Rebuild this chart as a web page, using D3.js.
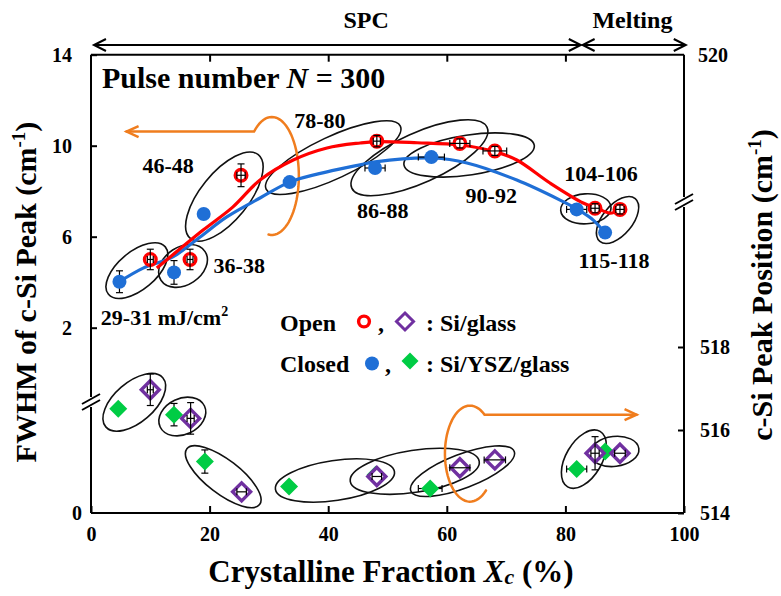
<!DOCTYPE html>
<html><head><meta charset="utf-8">
<script src="https://cdn.jsdelivr.net/npm/d3@7/dist/d3.min.js"></script>
<style>
body{margin:0;background:#fff;}
svg text{font-family:"Liberation Serif","Times New Roman",Times,serif;font-weight:bold;fill:#000;}
</style></head><body>
<svg id="chart" width="781" height="596"></svg>
<script>
// ---------------- data ----------------
const groups = ["29-31 mJ/cm²","36-38","46-48","78-80","86-88","90-92","104-106","115-118"];
// Open symbols: Si/glass
const openXc        = [10.0,16.7,25.3,48.2,62.2,68.1,85.0,89.2];
const openFWHM      = [5.0,5.0,8.7,10.2,10.1,9.77,7.25,7.2];
const openFWHMerrY  = [0.45,0.45,0.5,0.25,0.2,0.2,0.2,0.2];
const openFWHMerrX  = [0.5,0.5,0.7,0.6,1.7,2.0,0.7,0.7];
const openPosXc     = [10.0,16.8,25.4,48.2,62.2,68.1,85.0,89.2];
const openPos       = [516.97,516.28,514.51,514.88,515.09,515.28,515.44,515.44];
const openPosErrY   = [0.38,0.38,0,0,0,0,0.4,0];
const openPosErrX   = [0.5,0.6,0.8,0.8,1.7,1.8,0.7,0.9];
// Closed symbols: Si/YSZ/glass
const closedXc       = [4.8,14.0,19.0,33.5,47.9,57.4,81.9,86.7];
const closedFWHM     = [4.02,4.43,7.0,8.4,9.02,9.5,7.2,6.18];
const closedFWHMerrY = [0.48,0.52,0,0,0,0,0,0];
const closedFWHMerrX = [0,0,0,0,1.7,2.2,1.7,0];
const closedPosXc    = [4.6,14.0,19.2,33.4,48.0,57.2,81.9,86.7];
const closedPos      = [516.51,516.37,515.24,514.64,514.92,514.59,515.06,515.48];
const closedPosErrY  = [0,0.27,0.28,0,0,0,0,0];
const closedPosErrX  = [0,0,0,0,0,2.0,1.7,0];
// smooth guide curves (FWHM)
const fitOpenXc     = [11.1,18.9,23.9,28.5,34.1,39.8,45.4,48.2,55.0,62.2,68.1,71.8,77.4,83.0,85.3,87.5,89.2];
const fitOpenFWHM   = [4.62,6.29,7.30,8.49,9.37,9.90,10.12,10.18,10.13,10.03,9.74,9.37,8.36,7.48,7.26,7.04,7.17];
const fitClosedXc   = [4.7,8.8,13.8,18.4,22.9,28.5,33.6,39.8,45.4,47.9,57.7,63.4,71.8,79.1,82.0,84.7,86.7];
const fitClosedFWHM = [4.01,4.62,5.11,5.99,6.87,7.70,8.41,8.85,9.16,9.29,9.46,9.24,8.49,7.61,7.21,6.73,6.16];
// tick labels
const xTicks      = [0,20,40,60,80,100];
const fwhmTicks   = [2,6,10,14];
const posTicks    = [514,516,518];

// ---------------- annotation layout ----------------
const labelAt = [[12.4,2.47],[25.0,4.76],[13.0,9.15],[38.6,11.13],[49.2,7.17],[67.5,7.83],[86.0,8.8],[88.2,4.98]];
// rings: [padding, ry, extra rotation, dx, dy]
const ringsFWHM = [[18,19,-4,2,0],[16,19,6,1,0],[27,24,-5,2,2],[26,21,0,0,-4],[30,25,-8,2,2],[34,20,-3,6,1],[16,15,0,0,0],[14,15,7,5,-1]];
const ringsPos  = [[19,20,-10,0,3],[16,18,-38,0,0],[22,17,-2,0,0],[16,20,-2,2,-1],[23,21,-4,-3,0],[20,17,3,0,-3],[20,18,-19,-2,-2],[17,15,-13,2,-1]];

const RED="#ff0000", BLUE="#1f6fd6", GREEN="#00cc44", PURPLE="#7030a0", ORANGE="#f07d1e";

const svg = d3.select("#chart");
const x  = d3.scaleLinear().domain([0,100]).range([91,684]);
const yF = d3.scaleLinear().domain([2,14]).range([327.7,54.7]);
const yP = d3.scaleLinear().domain([514,518]).range([513,347]);
const yF0 = d3.scaleLinear().domain([0,1]).range([513,402]);      // lower piece of broken left axis
const yP520 = d3.scaleLinear().domain([519,520]).range([190,54.7]); // upper piece of broken right axis
const T=yF(14), B=yP(514), L=x(0), R=x(100);
const breakL=402, breakR=202;

// ---------------- frame ----------------
const frame = svg.append("g").attr("stroke","#000").attr("stroke-width",2).attr("fill","none");
frame.append("line").attr("x1",L).attr("x2",R).attr("y1",T).attr("y2",T);
frame.append("line").attr("x1",L).attr("x2",R).attr("y1",B).attr("y2",B);
frame.append("line").attr("x1",L).attr("x2",L).attr("y1",T).attr("y2",breakL-5);
frame.append("line").attr("x1",L).attr("x2",L).attr("y1",breakL+5).attr("y2",B);
frame.append("line").attr("x1",R).attr("x2",R).attr("y1",T).attr("y2",breakR-5);
frame.append("line").attr("x1",R).attr("x2",R).attr("y1",breakR+5).attr("y2",B);
function breakMark(cx,cy){
  [-3,3].forEach(o=>{
    frame.append("line").attr("x1",cx-9).attr("y1",cy+o+5).attr("x2",cx+9).attr("y2",cy+o-5).attr("stroke-width",2);
  });
}
breakMark(L,breakL); breakMark(R,breakR);

function styleAxis(g){
  g.attr("font-size",20).attr("font-family",null);
  g.select(".domain").remove();
  g.selectAll(".tick line").attr("stroke-width",2);
}
svg.append("g").attr("transform",`translate(${L},0)`)
  .call(d3.axisLeft(yF).tickValues(fwhmTicks).tickSize(-6).tickPadding(19).tickFormat(d3.format("d"))).call(styleAxis);
svg.append("g").attr("transform",`translate(${L},0)`)
  .call(d3.axisLeft(yF0).tickValues([0]).tickSize(0).tickPadding(9).tickFormat(d3.format("d"))).call(styleAxis);
svg.append("g").attr("transform",`translate(${R},0)`)
  .call(d3.axisRight(yP).tickValues(posTicks).tickSize(-6).tickPadding(16).tickFormat(d3.format("d"))).call(styleAxis);
svg.append("g").attr("transform",`translate(${R},0)`)
  .call(d3.axisRight(yP520).tickValues([520]).tickSize(0).tickPadding(14).tickFormat(d3.format("d"))).call(styleAxis);
svg.append("g").attr("transform",`translate(0,${B})`)
  .call(d3.axisBottom(x).tickValues(xTicks).tickSize(-7).tickPadding(14).tickFormat(d3.format("d"))).call(styleAxis);
svg.append("g").attr("transform",`translate(0,${T})`)
  .call(d3.axisTop(x).tickValues([20,40,60,80]).tickSize(-7).tickFormat("")).call(styleAxis);

// ---------------- top regime arrows ----------------
function chevron(g,tx,ty,dir,len,half,color,w){
  g.append("path").attr("d",`M${tx-dir*len},${ty-half}L${tx},${ty}L${tx-dir*len},${ty+half}`)
   .attr("fill","none").attr("stroke",color).attr("stroke-width",w).attr("stroke-linejoin","miter");
}
const topG = svg.append("g");
const arrY = 45;
[[0.5,82.6],[82.9,100.3]].forEach(([a,b])=>{
  topG.append("line").attr("x1",x(a)).attr("x2",x(b)).attr("y1",arrY).attr("y2",arrY).attr("stroke","#000").attr("stroke-width",2);
  chevron(topG,x(a),arrY,-1,12,6,"#000",2);
  chevron(topG,x(b),arrY,1,12,6,"#000",2);
});
svg.append("text").attr("x",x(46.4)).attr("y",28).attr("text-anchor","middle").attr("font-size",24).text("SPC");
svg.append("text").attr("x",x(91.3)).attr("y",28).attr("text-anchor","middle").attr("font-size",24).text("Melting");

// ---------------- rings ----------------
function ring(p1,p2,spec){
  const [pad,ry,rot,dx,dy]=spec;
  const mx=(p1[0]+p2[0])/2+dx, my=(p1[1]+p2[1])/2+dy;
  const d=Math.hypot(p2[0]-p1[0],p2[1]-p1[1]);
  const a=Math.atan2(p2[1]-p1[1],p2[0]-p1[0])*180/Math.PI+rot;
  return {mx,my,rx:d/2+pad,ry,a};
}
const ringData = [];
groups.forEach((g,i)=>{
  ringData.push(ring([x(closedXc[i]),yF(closedFWHM[i])],[x(openXc[i]),yF(openFWHM[i])],ringsFWHM[i]));
  ringData.push(ring([x(closedPosXc[i]),yP(closedPos[i])],[x(openPosXc[i]),yP(openPos[i])],ringsPos[i]));
});
svg.append("g").selectAll("ellipse").data(ringData).join("ellipse")
  .attr("cx",0).attr("cy",0).attr("rx",d=>d.rx).attr("ry",d=>d.ry)
  .attr("transform",d=>`translate(${d.mx},${d.my}) rotate(${d.a})`)
  .attr("fill","none").attr("stroke","#111").attr("stroke-width",1.6);

// ---------------- orange shift arrows ----------------
function shiftArrow(c, rx, ry, lineY, tipX, t1deg, side){
  const s=(lineY-c[1])/ry;
  let t0=Math.asin(s); if(side<0) t0=-Math.PI-t0;
  const t1=t1deg*Math.PI/180;
  const pts=[[tipX,lineY]];
  d3.range(0,1.0001,0.02).forEach(f=>{const t=t0+(t1-t0)*f; pts.push([c[0]+rx*Math.cos(t),c[1]+ry*Math.sin(t)]);});
  svg.append("path").attr("d",d3.line().curve(d3.curveLinear)(pts)).attr("fill","none")
     .attr("stroke",ORANGE).attr("stroke-width",2.5).attr("stroke-linecap","round");
  chevron(svg,tipX,lineY,tipX<c[0]?-1:1,12,5.5,ORANGE,2.5);
}
shiftArrow([x(30.5),yF(8.67)],27,59,yF(10.62),x(6.0),97,-1);
shiftArrow([x(63.9),yP(515.43)],25,48,yP(516.37),x(92.0),-310,1);

// ---------------- curves ----------------
const lineGen = d3.line().curve(d3.curveCatmullRom.alpha(0.5));
svg.append("path").attr("d",lineGen(fitClosedXc.map((v,i)=>[x(v),yF(fitClosedFWHM[i])])))
  .attr("fill","none").attr("stroke",BLUE).attr("stroke-width",3.2);
svg.append("path").attr("d",lineGen(fitOpenXc.map((v,i)=>[x(v),yF(fitOpenFWHM[i])])))
  .attr("fill","none").attr("stroke",RED).attr("stroke-width",3.2);

// ---------------- error bars ----------------
function errBars(g, xs, ys, ex, ey, ys_scale){
  xs.forEach((xv,i)=>{
    const cx=x(xv), cy=ys_scale(ys[i]);
    if(ey[i]>0){
      const y1=ys_scale(ys[i]+ey[i]), y2=ys_scale(ys[i]-ey[i]);
      g.append("line").attr("x1",cx).attr("x2",cx).attr("y1",y1).attr("y2",y2);
      g.append("line").attr("x1",cx-3.5).attr("x2",cx+3.5).attr("y1",y1).attr("y2",y1);
      g.append("line").attr("x1",cx-3.5).attr("x2",cx+3.5).attr("y1",y2).attr("y2",y2);
    }
    if(ex[i]>0){
      const x1=x(xv-ex[i]), x2=x(xv+ex[i]);
      g.append("line").attr("x1",x1).attr("x2",x2).attr("y1",cy).attr("y2",cy);
      g.append("line").attr("x1",x1).attr("x2",x1).attr("y1",cy-3.5).attr("y2",cy+3.5);
      g.append("line").attr("x1",x2).attr("x2",x2).attr("y1",cy-3.5).attr("y2",cy+3.5);
    }
  });
}
const ebUnder = svg.append("g").attr("stroke","#000").attr("stroke-width",1.2);
errBars(ebUnder, closedXc, closedFWHM, closedFWHMerrX, closedFWHMerrY, yF);
errBars(ebUnder, closedPosXc, closedPos, closedPosErrX, closedPosErrY, yP);

// ---------------- markers ----------------
const diamond = s=>`M0,${-s}L${s},0L0,${s}L${-s},0Z`;
svg.append("g").selectAll("path").data(closedPosXc).join("path")
  .attr("d",diamond(9)).attr("transform",(d,i)=>`translate(${x(d)},${yP(closedPos[i])})`).attr("fill",GREEN);
svg.append("g").selectAll("circle").data(closedXc).join("circle")
  .attr("cx",d=>x(d)).attr("cy",(d,i)=>yF(closedFWHM[i])).attr("r",7).attr("fill",BLUE);
svg.append("g").selectAll("path").data(openPosXc).join("path")
  .attr("d",diamond(9)).attr("transform",(d,i)=>`translate(${x(d)},${yP(openPos[i])})`)
  .attr("fill","#fff").attr("stroke",PURPLE).attr("stroke-width",3.4);
svg.append("g").selectAll("circle").data(openXc).join("circle")
  .attr("cx",d=>x(d)).attr("cy",(d,i)=>yF(openFWHM[i])).attr("r",5.8)
  .attr("fill","#fff").attr("stroke",RED).attr("stroke-width",3.4);
const ebOver = svg.append("g").attr("stroke","#000").attr("stroke-width",1.2);
errBars(ebOver, openXc, openFWHM, openFWHMerrX, openFWHMerrY, yF);
errBars(ebOver, openPosXc, openPos, openPosErrX, openPosErrY, yP);

// ---------------- group labels ----------------
groups.forEach((g,i)=>{
  const t=svg.append("text").attr("x",x(labelAt[i][0])).attr("y",yF(labelAt[i][1])).attr("dy","0.35em")
    .attr("text-anchor","middle").attr("font-size",22);
  if(g.endsWith("²")){
    t.append("tspan").text(g.slice(0,-1));
    t.append("tspan").attr("font-size",14).attr("dy",-9).text("2");
  } else t.text(g);
});

// ---------------- title & legend ----------------
const pt = svg.append("text").attr("x",102).attr("y",88).attr("font-size",30);
pt.append("tspan").text("Pulse number ");
pt.append("tspan").attr("font-style","italic").text("N");
pt.append("tspan").text(" = 300");

const lg = svg.append("g");
lg.append("text").attr("x",280).attr("y",331).attr("font-size",24).text("Open");
lg.append("circle").attr("cx",364).attr("cy",321.5).attr("r",5.4).attr("fill","#fff").attr("stroke",RED).attr("stroke-width",3.4);
lg.append("text").attr("x",378).attr("y",331).attr("font-size",24).text(",");
lg.append("path").attr("d",diamond(8.5)).attr("transform","translate(405,321.5)").attr("fill","#fff").attr("stroke",PURPLE).attr("stroke-width",3);
lg.append("text").attr("x",426).attr("y",331).attr("font-size",24).text(": Si/glass");
lg.append("text").attr("x",280).attr("y",372).attr("font-size",24).text("Closed");
lg.append("circle").attr("cx",372).attr("cy",363.5).attr("r",7).attr("fill",BLUE);
lg.append("text").attr("x",385).attr("y",372).attr("font-size",24).text(",");
lg.append("path").attr("d",diamond(8.5)).attr("transform","translate(410,361)").attr("fill",GREEN);
lg.append("text").attr("x",426).attr("y",372).attr("font-size",24).text(": Si/YSZ/glass");

// ---------------- axis titles ----------------
const xt = svg.append("text").attr("x",391).attr("y",582).attr("text-anchor","middle").attr("font-size",31);
xt.append("tspan").text("Crystalline Fraction ");
xt.append("tspan").attr("font-style","italic").text("X");
xt.append("tspan").attr("font-style","italic").attr("font-size",22).attr("dy",2).text("c");
xt.append("tspan").attr("dy",-2).text(" (%)");

function vTitle(xp,yc,main){
  const t=svg.append("text").attr("transform",`translate(${xp},${yc}) rotate(-90)`).attr("text-anchor","middle").attr("font-size",30);
  t.append("tspan").text(main+" (cm");
  t.append("tspan").attr("font-size",19).attr("dy",-11).text("-1");
  t.append("tspan").attr("dy",11).text(")");
}
vTitle(36,292,"FWHM of c-Si Peak");
vTitle(772,285,"c-Si Peak Position");
</script>
</body></html>
